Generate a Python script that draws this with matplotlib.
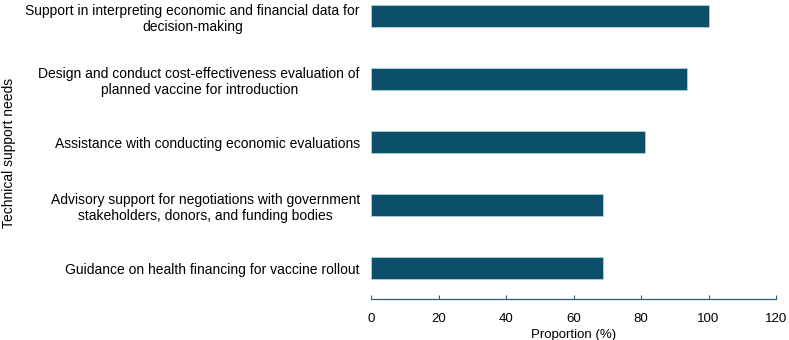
import matplotlib.pyplot as plt

plt.rcParams['font.family'] = ['Liberation Sans', 'DejaVu Sans']

needs = [
    'Support in interpreting economic and financial data for\ndecision-making',
    'Design and conduct cost-effectiveness evaluation of\nplanned vaccine for introduction',
    'Assistance with conducting economic evaluations',
    'Advisory support for negotiations with government\nstakeholders, donors, and funding bodies',
    'Guidance on health financing for vaccine rollout',
]
proportion = [100, 93.75, 81.25, 68.75, 68.75]
x_ticks = [0, 20, 40, 60, 80, 100, 120]

bar_color = '#0b5068'
axis_color = '#2b5f78'

fig = plt.figure(figsize=(7.89, 3.40), dpi=100)
ax = fig.add_axes([371 / 789, 41 / 340, 405 / 789, 299 / 340])

ypos = list(range(len(needs)))
ax.barh(ypos, proportion, height=0.35, color=bar_color,
        edgecolor='#a9d6e5', linewidth=0.6)

ax.set_xlim(0, 120)
ax.set_ylim(4.49, -0.254)
ax.set_xticks(x_ticks)
ax.set_xticklabels([str(t) for t in x_ticks])
ax.set_yticks(ypos)
ax.set_yticklabels(needs, fontsize=10, ha='right', multialignment='center')
ax.tick_params(axis='y', length=0, pad=8)
ax.tick_params(axis='x', direction='in', length=3, width=0.8, color=axis_color,
               labelsize=9.5, pad=10)

for side in ['top', 'right', 'left']:
    ax.spines[side].set_visible(False)
ax.spines['bottom'].set_color(axis_color)
ax.spines['bottom'].set_linewidth(0.9)

ax.set_xlabel('Proportion (%)', fontsize=9.5, labelpad=3)
fig.text(0.012, 1 - 153 / 340, 'Technical support needs', rotation=90,
         ha='center', va='center', fontsize=10)

fig.savefig('out.png', dpi=100)
